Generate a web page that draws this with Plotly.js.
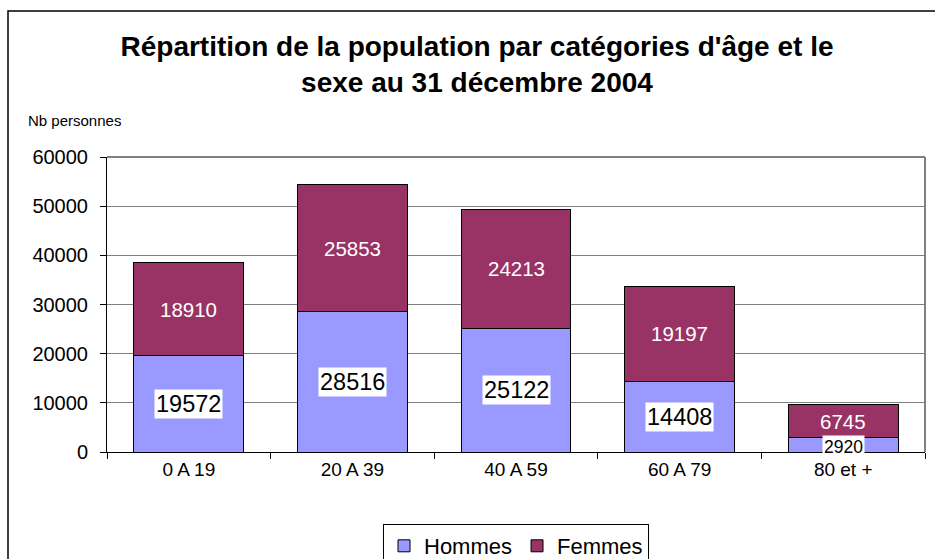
<!DOCTYPE html>
<html>
<head>
<meta charset="utf-8">
<script src="https://cdn.plot.ly/plotly-3.0.1.min.js"></script>
<style>html,body{margin:0;padding:0;background:#fff;}#chart{width:935px;height:559px;}</style>
</head>
<body>
<div id="chart"></div>
<script>
const categories = ["0 A 19", "20 A 39", "40 A 59", "60 A 79", "80 et +"];
const hommes = [19572, 28516, 25122, 14408, 2920];
const femmes = [18910, 25853, 24213, 19197, 6745];
const seriesNames = ["Hommes", "Femmes"];
const titleText = "Répartition de la population par catégories d'âge et le<br>sexe au 31 décembre 2004";
const yLabel = "Nb personnes";

const FONT = "'Liberation Sans', Arial, sans-serif";
const PH = 295, PW = 818, PL = 107, PT = 157;
const px = v => (v - PL) / PW;
const py = v => (PT + PH - v) / PH;

const traces = [
  {type: "bar", name: seriesNames[0], x: categories, y: hommes,
   marker: {color: "#9999FF", line: {color: "#000", width: 1}}, hoverinfo: "y"},
  {type: "bar", name: seriesNames[1], x: categories, y: femmes,
   marker: {color: "#993366", line: {color: "#000", width: 1}}, hoverinfo: "y"}
];

const annotations = [];
categories.forEach((c, i) => {
  const small = hommes[i] < 5000;
  annotations.push({
    x: c, y: small ? hommes[i] / 2 - 400 : hommes[i] / 2, xref: "x", yref: "y",
    text: String(hommes[i]), showarrow: false,
    font: {family: FONT, size: small ? 17.5 : 23.5, color: "#000"},
    bgcolor: "#fff", borderpad: 1
  });
  annotations.push({
    x: c, y: hommes[i] + femmes[i] / 2, xref: "x", yref: "y",
    text: String(femmes[i]), showarrow: false,
    font: {family: FONT, size: 20.5, color: "#fff"}
  });
});
annotations.push({
  xref: "paper", yref: "paper",
  x: px(26), y: py(120), xanchor: "left", yanchor: "middle",
  text: yLabel, showarrow: false, font: {family: FONT, size: 15, color: "#000"}
});

const layout = {
  width: 935, height: 559,
  margin: {l: PL, r: 935 - PL - PW, t: PT, b: 559 - PT - PH},
  paper_bgcolor: "#fff", plot_bgcolor: "#fff",
  barmode: "stack", bargap: 0.33,
  showlegend: true,
  font: {family: FONT, color: "#000"},
  title: {text: titleText, font: {family: FONT, size: 28, color: "#000", weight: "bold"},
          x: 477 / 935, xanchor: "center", y: 1 - 56 / 559, yanchor: "middle"},
  xaxis: {type: "category", tickson: "boundaries", ticks: "outside", ticklen: 6, tickcolor: "#000",
          showline: true, linecolor: "#000", linewidth: 1, showgrid: false,
          tickfont: {family: FONT, size: 19, color: "#000"}, fixedrange: true},
  yaxis: {range: [0, 60000], dtick: 10000, ticks: "outside", ticklen: 6, tickcolor: "#000",
          tickformat: "d", exponentformat: "none", ticklabelstandoff: 8,
          showline: true, linecolor: "#000", linewidth: 1,
          showgrid: true, gridcolor: "#808080", gridwidth: 1, zeroline: false,
          tickfont: {family: FONT, size: 20, color: "#000"}, fixedrange: true},
  legend: {orientation: "h", xref: "container", x: 516 / 935, xanchor: "center",
           yref: "container", y: (559 - 524) / 559, yanchor: "top",
           bordercolor: "#000", borderwidth: 1, bgcolor: "#fff",
           font: {family: FONT, size: 22, color: "#000"}, traceorder: "normal", itemwidth: 30},
  annotations: annotations,
  shapes: [
    {type: "rect", xref: "paper", yref: "paper",
     x0: px(8), x1: px(980), y0: py(620), y1: py(11),
     line: {color: "#000", width: 1.5}, fillcolor: "rgba(0,0,0,0)", layer: "below"},
    {type: "line", xref: "paper", yref: "paper", x0: 0, x1: 1, y0: 1, y1: 1,
     line: {color: "#808080", width: 2}},
    {type: "line", xref: "paper", yref: "paper", x0: 1, x1: 1, y0: 0, y1: 1,
     line: {color: "#808080", width: 2}}
  ]
};

Plotly.newPlot("chart", traces, layout, {displayModeBar: false, staticPlot: true});
</script>
</body>
</html>
